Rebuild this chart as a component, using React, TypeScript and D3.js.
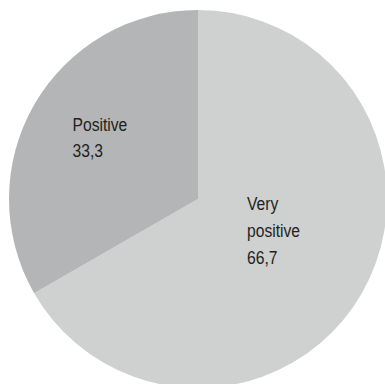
import React from "react";
import * as d3 from "d3";

const categories = ["Very positive", "Positive"];
const values = [66.7, 33.3];
const labelLines = [["Very", "positive", "66,7"], ["Positive", "33,3"]];
const colors = ["#cfd0d0", "#b4b5b6"];

export default function App() {
  const width = 385;
  const height = 384;
  const cx = 198;
  const cy = 199;
  const r = 189;
  const pie = d3.pie<number>().sort(null).value((d) => d)(values);
  const arc = d3.arc<d3.PieArcDatum<number>>().innerRadius(0).outerRadius(r);
  const labelPos = [
    { x: 247, y: 210 },
    { x: 72.5, y: 130.7 },
  ];
  return (
    <svg
      width={width}
      height={height}
      style={{ position: "absolute", left: 0, top: 0 }}
    >
      <rect width={width} height={height} fill="#ffffff" />
      <g transform={`translate(${cx},${cy})`}>
        {pie.map((p, i) => (
          <path key={categories[i]} d={arc(p) || ""} fill={colors[i]} />
        ))}
      </g>
      {labelLines.map((lines, i) => (
        <text
          key={categories[i]}
          transform={`translate(${labelPos[i].x},${labelPos[i].y}) scale(0.87,1)`}
          fontFamily="'Liberation Sans', Arial, sans-serif"
          fontSize={18}
          fill="#231f20"
        >
          {lines.map((l, j) => (
            <tspan key={j} x={0} y={j * 26.8}>
              {l}
            </tspan>
          ))}
        </text>
      ))}
    </svg>
  );
}
